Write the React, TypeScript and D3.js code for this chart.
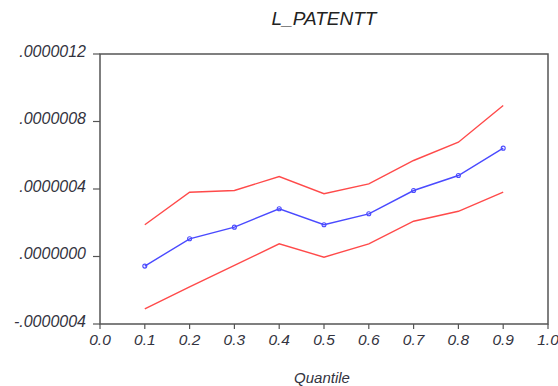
import React from 'react';
import * as d3 from 'd3';

// quantiles and estimates (values in units of 1e-6)
const quantiles = [0.1, 0.2, 0.3, 0.4, 0.5, 0.6, 0.7, 0.8, 0.9];
const estimate = [-0.057, 0.105, 0.174, 0.283, 0.188, 0.253, 0.391, 0.48, 0.642];
const upperBand = [0.188, 0.381, 0.391, 0.474, 0.372, 0.43, 0.569, 0.677, 0.895];
const lowerBand = [-0.31, -0.18, -0.053, 0.075, -0.004, 0.075, 0.209, 0.268, 0.381];
const xTicks = [0, 0.1, 0.2, 0.3, 0.4, 0.5, 0.6, 0.7, 0.8, 0.9, 1.0];
const yTicks = [-0.4, 0, 0.4, 0.8, 1.2];
const yTickLabels = ['-.0000004', '.0000000', '.0000004', '.0000008', '.0000012'];

const W = 558, H = 386;
const left = 100, right = 548, top = 54, bottom = 324;

export default function App() {
  const x = d3.scaleLinear().domain([0, 1]).range([left, right]);
  const y = d3.scaleLinear().domain([-0.4, 1.2]).range([bottom, top]);

  const line = d3.line<number>()
    .x((d, i) => x(quantiles[i]))
    .y(d => y(d));

  const font = "'Liberation Sans', Arial, sans-serif";
  const textCol = '#333340';

  return (
    <svg width={W} height={H} style={{ position: 'absolute', left: 0, top: 0, background: '#fff' }}>
      <text x={324} y={25} textAnchor="middle" fontFamily={font} fontStyle="italic" fontSize={19} fill="#222">
        L_PATENTT
      </text>

      <rect x={left} y={top} width={right - left} height={bottom - top} fill="none" stroke="#555" strokeWidth={1.5} />

      {yTicks.map((t, i) => (
        <g key={'y' + i}>
          <line x1={left - 7} x2={left} y1={y(t)} y2={y(t)} stroke="#555" strokeWidth={1.2} />
          <text x={86} y={y(t) + 2.5} textAnchor="end" fontFamily={font} fontStyle="italic" fontSize={16} fill={textCol}>
            {yTickLabels[i]}
          </text>
        </g>
      ))}

      {xTicks.map((t, i) => (
        <g key={'x' + i}>
          <line x1={x(t)} x2={x(t)} y1={bottom} y2={bottom + 5} stroke="#555" strokeWidth={1.2} />
          <text x={x(t)} y={bottom + 21} textAnchor="middle" fontFamily={font} fontStyle="italic" fontSize={15.5} fill={textCol}>
            {t.toFixed(1)}
          </text>
        </g>
      ))}

      <text x={322} y={383} textAnchor="middle" fontFamily={font} fontStyle="italic" fontSize={15} fill={textCol}>
        Quantile
      </text>

      <path d={line(upperBand) || ''} fill="none" stroke="#ff4a4a" strokeWidth={1.4} />
      <path d={line(lowerBand) || ''} fill="none" stroke="#ff4a4a" strokeWidth={1.4} />
      <path d={line(estimate) || ''} fill="none" stroke="#4a4aff" strokeWidth={1.4} />
      {estimate.map((v, i) => (
        <circle key={'m' + i} cx={x(quantiles[i])} cy={y(v)} r={2} fill="none" stroke="#4a4aff" strokeWidth={1.1} />
      ))}
    </svg>
  );
}
